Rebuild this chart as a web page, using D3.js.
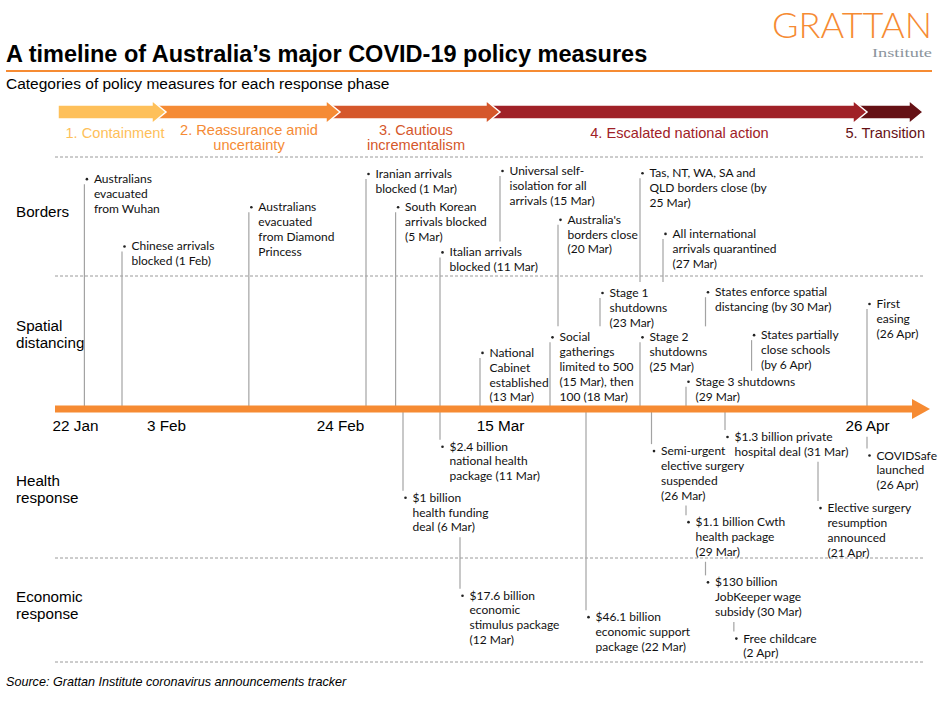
<!DOCTYPE html>
<html>
<head>
<meta charset="utf-8">
<script src="https://cdn.jsdelivr.net/npm/d3@7"></script>
<style>
  body { margin: 0; background: #fff; }
  svg { display: block; }
</style>
</head>
<body>
<div id="chart"></div>
<script>
// ---- data ----
var categories = ["Borders", "Spatial distancing", "Health response", "Economic response"];

var phaseNames = [
  ["1. Containment"],
  ["2. Reassurance amid", "uncertainty"],
  ["3. Cautious", "incrementalism"],
  ["4. Escalated national action"],
  ["5. Transition"]
];
var phaseEnds = ["2020-02-03", "2020-02-24", "2020-03-15", "2020-04-26", "2020-05-02"];
var phaseColors = ["#FEC05A", "#F58B35", "#D5572B", "#A02127", "#651115"];

var tickDates = ["2020-01-22", "2020-02-03", "2020-02-24", "2020-03-15", "2020-04-26"];

// level = text line slot within the category row
var borders = [
  {date: "2020-01-24", level: 0.55, text: ["Australians", "evacuated", "from Wuhan"]},
  {date: "2020-02-01", level: 5.1,  text: ["Chinese arrivals", "blocked (1 Feb)"]},
  {date: "2020-02-13", level: 2.45, text: ["Australians", "evacuated", "from Diamond", "Princess"]},
  {date: "2020-03-01", level: 0.2,  text: ["Iranian arrivals", "blocked (1 Mar)"]},
  {date: "2020-03-05", level: 2.45, text: ["South Korean", "arrivals blocked", "(5 Mar)"]},
  {date: "2020-03-11", level: 5.5,  text: ["Italian arrivals", "blocked (11 Mar)"]},
  {date: "2020-03-15", level: 0,    text: ["Universal self-", "isolation for all", "arrivals (15 Mar)"]},
  {date: "2020-03-20", level: 3.3,  text: ["Australia's", "borders close", "(20 Mar)"]},
  {date: "2020-03-25", level: 0.15, text: ["Tas, NT, WA, SA and", "QLD borders close (by", "25 Mar)"]},
  {date: "2020-03-27", level: 4.25, text: ["All international", "arrivals quarantined", "(27 Mar)"]}
];
var spatial = [
  {date: "2020-03-13", level: 4.25, text: ["National", "Cabinet", "established", "(13 Mar)"]},
  {date: "2020-03-18", level: 3.2,  text: ["Social", "gatherings", "limited to 500", "(15 Mar), then", "100 (18 Mar)"]},
  {date: "2020-03-23", level: 0.2,  text: ["Stage 1", "shutdowns", "(23 Mar)"]},
  {date: "2020-03-25", level: 3.2,  text: ["Stage 2", "shutdowns", "(25 Mar)"]},
  {date: "2020-03-29", level: 6.2,  text: ["Stage 3 shutdowns", "(29 Mar)"]},
  {date: "2020-03-30", level: 0.15, text: ["States enforce spatial", "distancing (by 30 Mar)"]},
  {date: "2020-04-06", level: 3.05, text: ["States partially", "close schools", "(by 6 Apr)"]},
  {date: "2020-04-26", level: 0.95, text: ["First", "easing", "(26 Apr)"]}
];
var health = [
  {date: "2020-03-06", level: 5.05, text: ["$1 billion", "health funding", "deal (6 Mar)"]},
  {date: "2020-03-11", level: 1.6,  text: ["$2.4 billion", "national health", "package (11 Mar)"]},
  {date: "2020-03-26", level: 1.9,  text: ["Semi-urgent", "elective surgery", "suspended", "(26 Mar)"]},
  {date: "2020-03-31", level: 0.95, text: ["$1.3 billion private", "hospital deal (31 Mar)"]},
  {date: "2020-03-29", level: 6.7,  text: ["$1.1 billion Cwth", "health package", "(29 Mar)"]},
  {date: "2020-04-21", level: 5.75, text: ["Elective surgery", "resumption", "announced", "(21 Apr)"]},
  {date: "2020-04-26", level: 2.2,  text: ["COVIDSafe", "launched", "(26 Apr)"]}
];
var economic = [
  {date: "2020-03-12", level: 1.6,  text: ["$17.6 billion", "economic", "stimulus package", "(12 Mar)"]},
  {date: "2020-03-22", level: 3.05, text: ["$46.1 billion", "economic support", "package (22 Mar)"]},
  {date: "2020-03-30", level: 0.7,  text: ["$130 billion", "JobKeeper wage", "subsidy (30 Mar)"]},
  {date: "2020-04-02", level: 4.5,  text: ["Free childcare", "(2 Apr)"]}
];

// ---- layout ----
var width = 939;
var height = 704;
var axisY = 409;
var lineH = 14.8;
var sans = "'Liberation Sans', Arial, sans-serif";
var evFont = "Lato, 'Open Sans', sans-serif";
var orange = "#F68B33";

var bands = [
  {top: 157, bottom: 276, base: 171, up: true,  labelY: 211},
  {top: 276, bottom: axisY, base: 290, up: true,  labelY: 333.5},
  {top: axisY, bottom: 558, base: 423, up: false, labelY: 488.5},
  {top: 558, bottom: 662, base: 572, up: false, labelY: 605}
];

var parse = d3.timeParse("%Y-%m-%d");

// hand-spaced timeline: piecewise time scale
var x = d3.scaleTime()
  .domain(["2020-01-18", "2020-01-22", "2020-02-01", "2020-02-03", "2020-02-24", "2020-03-01",
           "2020-03-11", "2020-03-13", "2020-03-15", "2020-03-18", "2020-03-20", "2020-03-23",
           "2020-03-25", "2020-03-29", "2020-03-31", "2020-04-21", "2020-04-26", "2020-05-02"].map(parse))
  .range([55, 75, 122, 166, 340, 366, 440, 480, 500, 550, 558, 600, 640, 686, 725, 818, 867, 925]);

var svg = d3.select("#chart")
  .append("svg")
  .attr("width", width)
  .attr("height", height);

svg.append("rect").attr("width", width).attr("height", height).attr("fill", "#fff");

// ---- header ----
svg.append("text")
  .attr("x", 6).attr("y", 62)
  .attr("font-family", sans).attr("font-weight", "bold").attr("font-size", 23.5)
  .attr("fill", "#000")
  .text("A timeline of Australia\u2019s major COVID-19 policy measures");

svg.append("line")
  .attr("x1", 6).attr("x2", 932).attr("y1", 71).attr("y2", 71)
  .attr("stroke", orange).attr("stroke-width", 2);

svg.append("text")
  .attr("x", 6).attr("y", 89)
  .attr("font-family", sans).attr("font-size", 15.5)
  .attr("fill", "#000")
  .text("Categories of policy measures for each response phase");

svg.append("text")
  .attr("x", 772).attr("y", 38)
  .attr("font-family", "Lato, sans-serif").attr("font-weight", 300).attr("font-size", 34.5)
  .attr("textLength", 160).attr("lengthAdjust", "spacingAndGlyphs")
  .attr("fill", orange)
  .text("GRATTAN");

svg.append("text")
  .attr("x", 872).attr("y", 57)
  .attr("font-family", "'Liberation Serif', 'DejaVu Serif', serif").attr("font-size", 13)
  .attr("textLength", 60).attr("lengthAdjust", "spacingAndGlyphs")
  .attr("fill", "#8c959d")
  .text("Institute");

// ---- phase arrows ----
var head = 14;
var phases = phaseNames.map(function(name, i) {
  var x1 = i === phaseEnds.length - 1 ? x(parse(phaseEnds[i])) - 2 : x(parse(phaseEnds[i]));
  var x0 = i === 0 ? x.range()[0] + 3 : x(parse(phaseEnds[i - 1])) - head;
  return {name: name, x0: x0, x1: x1, color: phaseColors[i]};
});

var pTop = 105, pBot = 119, pMid = 112;
svg.append("g")
  .selectAll("path")
  .data(phases.slice().reverse())
  .join("path")
    .attr("d", function(d) {
      return "M" + d.x0 + "," + pTop + "L" + (d.x1 - head) + "," + pTop +
        "L" + (d.x1 - head) + "," + (pTop - 4.5) + "L" + d.x1 + "," + pMid +
        "L" + (d.x1 - head) + "," + (pBot + 4.5) + "L" + (d.x1 - head) + "," + pBot +
        "L" + d.x0 + "," + pBot + "Z";
    })
    .attr("fill", function(d) { return d.color; })
    .attr("stroke", "#fff")
    .attr("stroke-width", 1.5)
    .attr("stroke-linejoin", "miter");

var phaseText = svg.append("g")
  .selectAll("text")
  .data(phases)
  .join("text")
    .attr("font-family", sans).attr("font-size", 14.6)
    .attr("text-anchor", "middle")
    .attr("fill", function(d) { return d.color; });

phaseText.selectAll("tspan")
  .data(function(d) { return d.name.map(function(t, i) { return {t: t, i: i}; }); })
  .join("tspan")
    .attr("dy", function(o) { return o.i ? 15.5 : 0; })
    .text(function(o) { return o.t; });

phaseText.each(function(d) {
  var t = d3.select(this);
  var w = this.getBBox().width;
  var cx = Math.min((d.x0 + d.x1) / 2 + 3, 925 - w / 2);
  t.attr("y", d.name.length > 1 ? 134.5 : 137.5);
  t.selectAll("tspan").attr("x", cx);
});

// ---- row dividers and category labels ----
var divY = [bands[0].top, bands[0].bottom, bands[3].top, bands[3].bottom];
svg.append("g")
  .selectAll("line")
  .data(divY)
  .join("line")
    .attr("x1", x.range()[0]).attr("x2", 925)
    .attr("y1", function(d) { return d; }).attr("y2", function(d) { return d; })
    .attr("stroke", "#9a9a9a").attr("stroke-width", 1).attr("stroke-dasharray", "3,2");

var catText = svg.append("g")
  .selectAll("text")
  .data(categories)
  .join("text")
    .attr("font-family", sans).attr("font-size", 15.2).attr("fill", "#000");

catText.selectAll("tspan")
  .data(function(d, i) {
    var parts = d.split(" ");
    var y0 = bands[i].labelY - (parts.length - 1) * 8.5 + 5.5;
    return parts.map(function(p, j) { return {t: p, y: y0 + j * 17}; });
  })
  .join("tspan")
    .attr("x", 16)
    .attr("y", function(o) { return o.y; })
    .text(function(o) { return o.t; });

// layers
var leaderLayer = svg.append("g");
var axisLayer = svg.append("g");
var labelLayer = svg.append("g");

// ---- events ----
var events = [];
[borders, spatial, health, economic].forEach(function(list, ci) {
  list.forEach(function(d) {
    var b = bands[ci];
    events.push({
      cat: ci,
      up: b.up,
      x: x(parse(d.date)),
      cy: b.base + d.level * lineH,
      text: d.text
    });
  });
});

var ev = labelLayer.selectAll("g")
  .data(events)
  .join("g");

ev.append("circle")
  .attr("cx", function(d) { return d.x + 2.5; })
  .attr("cy", function(d) { return d.cy; })
  .attr("r", 1.3)
  .attr("fill", "#222");

ev.append("text")
  .attr("font-family", evFont).attr("font-size", 12).attr("fill", "#111")
  .attr("y", function(d) { return d.cy + 4; })
  .selectAll("tspan")
  .data(function(d) { return d.text.map(function(t, i) { return {t: t, i: i, d: d}; }); })
  .join("tspan")
    .attr("x", function(o) { return o.d.x + 9.5; })
    .attr("dy", function(o) { return o.i ? lineH : 0; })
    .text(function(o) { return o.t; });

ev.each(function(d) {
  var bb = d3.select(this).select("text").node().getBBox();
  d.box = {x0: d.x - 1, x1: bb.x + bb.width, y0: bb.y, y1: bb.y + bb.height};
});

// ---- date axis ----
var axisG = axisLayer.append("g")
  .attr("transform", "translate(0," + axisY + ")")
  .call(d3.axisBottom(x)
    .tickValues(tickDates.map(parse))
    .tickFormat(d3.timeFormat("%-d %b"))
    .tickSize(0)
    .tickPadding(11))
  .call(function(g) { g.select(".domain").remove(); });

axisG.selectAll("text")
  .attr("font-family", sans).attr("font-size", 15.3).attr("fill", "#000");

var tickBoxes = [];
axisG.selectAll(".tick").each(function(d) {
  var bb = d3.select(this).select("text").node().getBBox();
  tickBoxes.push({box: {x0: x(d) + bb.x, x1: x(d) + bb.x + bb.width, y0: axisY + bb.y, y1: axisY + bb.y + bb.height}});
});

var xEnd = x.range()[x.range().length - 1];
axisLayer.append("line")
  .attr("x1", x.range()[0]).attr("x2", xEnd - 10)
  .attr("y1", axisY).attr("y2", axisY)
  .attr("stroke", orange).attr("stroke-width", 7);
axisLayer.append("path")
  .attr("d", "M" + (xEnd - 13) + "," + (axisY - 10) + "L" + (xEnd + 5) + "," + axisY +
    "L" + (xEnd - 13) + "," + (axisY + 10) + "Z")
  .attr("fill", orange);

// ---- leader lines, stopped at the first label in the way ----
events.forEach(function(d) {
  var y0, y1;
  var others = events.filter(function(o) { return o !== d; }).concat(tickBoxes);
  var hits = others.filter(function(o) { return o.box.x0 <= d.x && o.box.x1 >= d.x; });
  if (d.up) {
    y0 = d.cy + 5;
    y1 = axisY;
    hits.forEach(function(o) {
      if (o.box.y0 > d.cy && o.box.y0 - 3 < y1) y1 = o.box.y0 - 3;
    });
  } else {
    y1 = d.cy - 7;
    y0 = axisY;
    hits.forEach(function(o) {
      if (o.box.y1 < d.cy && o.box.y1 + 3 > y0) y0 = o.box.y1 + 3;
    });
  }
  d.lineY = [y0, y1];
});

leaderLayer.selectAll("line")
  .data(events)
  .join("line")
    .attr("x1", function(d) { return d.x; }).attr("x2", function(d) { return d.x; })
    .attr("y1", function(d) { return d.lineY[0]; })
    .attr("y2", function(d) { return d.lineY[1]; })
    .attr("stroke", "#a3a3a3")
    .attr("stroke-width", 1.2);

// ---- source ----
svg.append("text")
  .attr("x", 6).attr("y", 686)
  .attr("font-family", sans).attr("font-style", "italic").attr("font-size", 12.6)
  .attr("fill", "#000")
  .text("Source: Grattan Institute coronavirus announcements tracker");
</script>
</body>
</html>
